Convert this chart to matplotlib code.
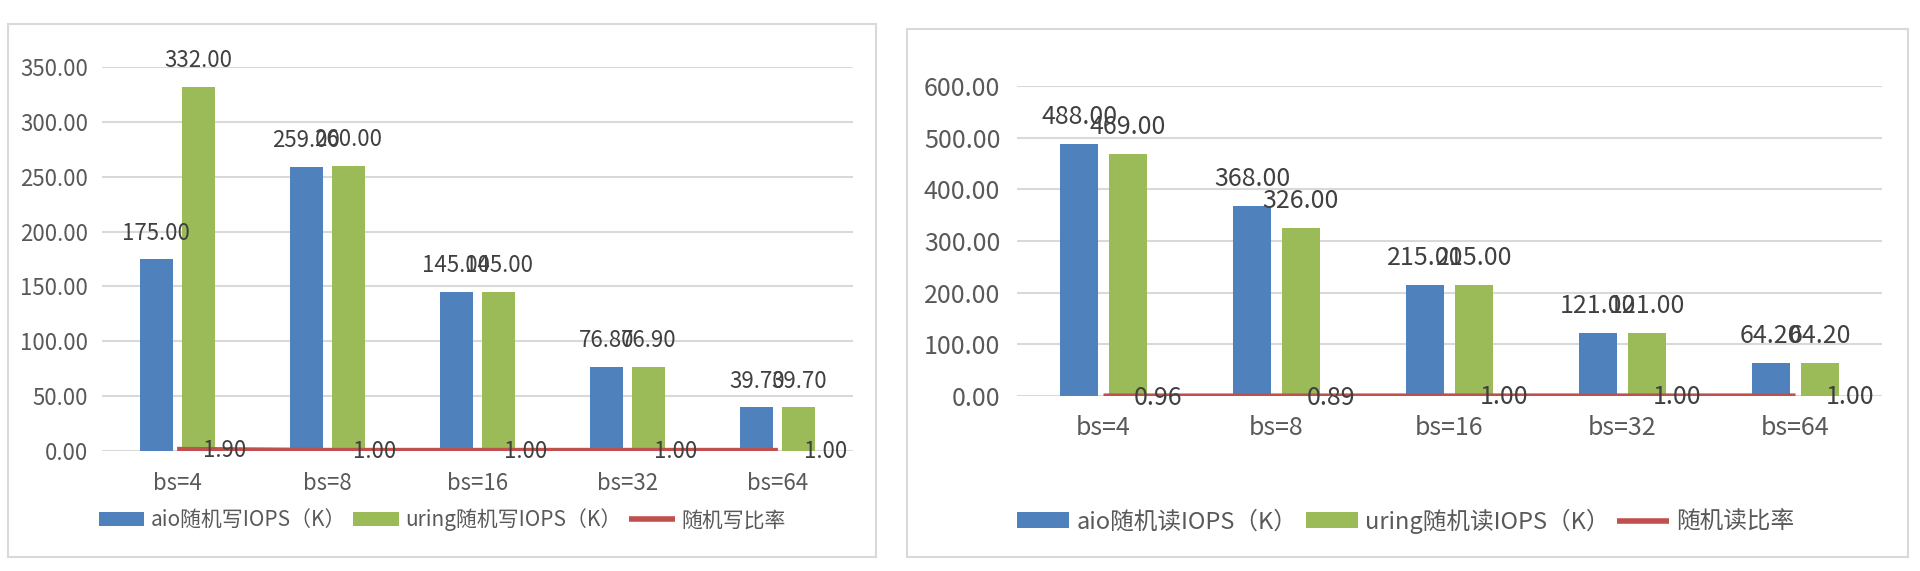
import matplotlib
matplotlib.use("Agg")
import matplotlib.pyplot as plt
from matplotlib.patches import Rectangle
import numpy as np

plt.rcParams['font.family'] = ['Noto Sans CJK SC', 'DejaVu Sans']

categories = ["bs=4", "bs=8", "bs=16", "bs=32", "bs=64"]

write_aio = [175.00, 259.00, 145.00, 76.80, 39.70]
write_uring = [332.00, 260.00, 145.00, 76.90, 39.70]
write_ratio = [1.90, 1.00, 1.00, 1.00, 1.00]

read_aio = [488.00, 368.00, 215.00, 121.00, 64.20]
read_uring = [469.00, 326.00, 215.00, 121.00, 64.20]
read_ratio = [0.96, 0.89, 1.00, 1.00, 1.00]

write_labels = ["aio随机写IOPS（K）", "uring随机写IOPS（K）", "随机写比率"]
read_labels = ["aio随机读IOPS（K）", "uring随机读IOPS（K）", "随机读比率"]

write_yticks = [0, 50, 100, 150, 200, 250, 300, 350]
read_yticks = [0, 100, 200, 300, 400, 500, 600]

BLUE = "#4F81BD"
GREEN = "#9BBB59"
RED = "#C0504D"
GRID = "#D9D9D9"
TICK = "#595959"
LABEL = "#404040"

W, H = 1920, 571
fig = plt.figure(figsize=(W / 100, H / 100), dpi=100)


def px_rect(x0, y0, x1, y1):
    return [x0 / W, (H - y1) / H, (x1 - x0) / W, (y1 - y0) / H]


def panel(box, axbox, aio, uring, ratio, labels, yticks, fs, lfs, pad_x, pad_y,
          off_bar, off_ratio, legend_y, legend_x):
    # panel border
    x0, y0, x1, y1 = box
    fig.patches.append(Rectangle((x0 / W, (H - y1) / H), (x1 - x0) / W, (y1 - y0) / H,
                                 transform=fig.transFigure, fill=False,
                                 edgecolor=GRID, linewidth=1.5))
    ax = fig.add_axes(px_rect(*axbox))
    x = np.arange(len(categories))
    bw = 0.22
    off = 0.14
    b1 = ax.bar(x - off, aio, bw, color=BLUE, zorder=2, label=labels[0])
    b2 = ax.bar(x + off, uring, bw, color=GREEN, zorder=2, label=labels[1])
    ln, = ax.plot(x, ratio, color=RED, linewidth=3, zorder=3, label=labels[2],
                  solid_capstyle='butt')
    for xi, v in zip(x - off, aio):
        ax.annotate(f"{v:.2f}", (xi, v), xytext=(0, off_bar), textcoords='offset pixels',
                    ha='center', va='center', fontsize=fs, color=LABEL, zorder=5)
    for xi, v in zip(x + off, uring):
        ax.annotate(f"{v:.2f}", (xi, v), xytext=(0, off_bar), textcoords='offset pixels',
                    ha='center', va='center', fontsize=fs, color=LABEL, zorder=5)
    for xi, v in zip(x, ratio):
        ax.annotate(f"{v:.2f}", (xi, v), xytext=(off_ratio, -2), textcoords='offset pixels',
                    ha='left', va='center', fontsize=fs, color=LABEL, zorder=5)
    ax.set_xlim(-0.5, len(categories) - 0.5)
    ax.set_ylim(yticks[0], yticks[-1])
    ax.set_yticks(yticks)
    ax.set_yticklabels([f"{t:.2f}" for t in yticks])
    ax.set_xticks(x)
    ax.set_xticklabels(categories)
    ax.tick_params(axis='both', length=0, labelsize=fs, labelcolor=TICK)
    ax.tick_params(axis='x', pad=pad_x)
    ax.tick_params(axis='y', pad=pad_y)
    for s in ax.spines.values():
        s.set_visible(False)
    ax.yaxis.grid(True, color=GRID, linewidth=1.5, zorder=0)
    ax.set_axisbelow(True)
    ax.patch.set_alpha(0)
    leg = fig.legend(handles=[b1, b2, ln], labels=labels, loc='center',
                     bbox_to_anchor=(legend_x / W, (H - legend_y) / H), ncol=3,
                     frameon=False, fontsize=lfs, handlelength=2.2, handleheight=0.65,
                     handletextpad=0.3, columnspacing=0.35, borderaxespad=0)
    for t in leg.get_texts():
        t.set_color(TICK)
    for h in leg.legend_handles:
        if hasattr(h, "set_linewidth") and not hasattr(h, "get_facecolor"):
            h.set_linewidth(4)
    return ax


panel((8, 24, 876, 557), (102, 67, 853, 451), write_aio, write_uring, write_ratio,
      write_labels, write_yticks, fs=16, lfs=15, pad_x=15, pad_y=10,
      off_bar=26, off_ratio=26, legend_y=520, legend_x=442)

panel((907, 29, 1908, 557), (1017, 86, 1882, 396), read_aio, read_uring, read_ratio,
      read_labels, read_yticks, fs=18, lfs=17, pad_x=14, pad_y=12,
      off_bar=27, off_ratio=30, legend_y=521, legend_x=1406)

fig.savefig("out.png", dpi=100)
